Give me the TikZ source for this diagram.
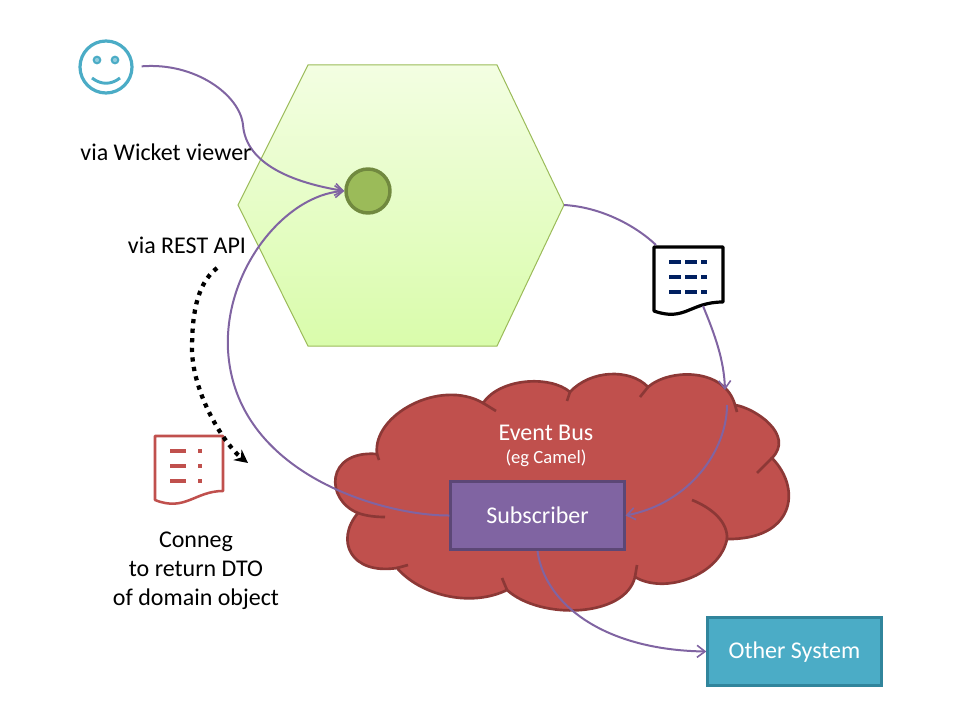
\documentclass[tikz,border=0pt]{standalone}
\usepackage{fontspec}
\setmainfont{Carlito}
\usetikzlibrary{arrows.meta}
\definecolor{flow}{HTML}{8064A2}
\definecolor{flowdark}{HTML}{5C4776}
\definecolor{busred}{HTML}{C0504D}
\definecolor{busdark}{HTML}{8C3836}
\definecolor{teal}{HTML}{4BACC6}
\definecolor{tealdark}{HTML}{31859C}
\definecolor{leaf}{HTML}{9BBB59}
\definecolor{leafdark}{HTML}{71893F}
\definecolor{navy}{HTML}{002060}
\definecolor{hextop}{HTML}{F3FEE2}
\definecolor{hexbottom}{HTML}{D9FCAB}

\begin{document}
\begin{tikzpicture}[x=0.75pt,y=-0.75pt,
	every node/.style={font=\fontsize{18}{21.75}\selectfont,align=center,inner sep=0pt},
	flowline/.style={draw=flow,line width=1.5pt,-{Straight Barb[length=6pt,width=9pt,line width=1.2pt]}},
	flowplain/.style={draw=flow,line width=1.5pt},
	cloudline/.style={draw=busdark,line width=2pt},
	box/.style={draw,line width=2.25pt,minimum width=130pt,minimum height=51pt,text=white},
	docbar/.style={line width=3pt,dash pattern=on 9pt off 3pt on 9pt off 3pt on 4.5pt off 9pt}] 

	\useasboundingbox (0,0) rectangle (960,720);

	% hexagon
	\draw[draw=leaf,line width=0.75pt,top color=hextop,bottom color=hexbottom] (308,65) -- (497,65) -- (564,205) -- (497,346) -- (308,346) -- (238,205) -- cycle;
	\coordinate (hexeast) at (564,205);

	% smiley
	\node[circle,draw=teal,line width=2.4pt,minimum size=39pt] (smiley) at (106,67) {};
	\node[circle,draw=teal,fill=teal!60,line width=1.5pt,minimum size=5pt] (eyeleft) at (97,60) {};
	\node[circle,draw=teal,fill=teal!60,line width=1.5pt,minimum size=5pt] (eyeright) at (115,60) {};
	\draw[teal,line width=2.2pt] (92,78) .. controls (101,85) and (111,85) .. (120,78);

	% object on the hexagon
	\node[circle,draw=leafdark,fill=leaf,line width=2.6pt,minimum width=33pt,minimum height=31pt] (dot) at (368,191) {};

	% event bus
	\draw[fill=busred,cloudline] (377,454)
		.. controls (372,415) and (440,378) .. (483,403)
		.. controls (500,378) and (550,375) .. (570,392)
		.. controls (590,370) and (630,368) .. (648,387)
		.. controls (670,368) and (725,368) .. (735,405)
		.. controls (755,408) and (795,435) .. (772,458)
		.. controls (803,490) and (793,540) .. (727,539)
		.. controls (720,575) and (665,595) .. (635,577)
		.. controls (625,618) and (540,620) .. (507,590)
		.. controls (470,608) and (420,595) .. (397,568)
		.. controls (350,575) and (335,540) .. (358,513)
		.. controls (325,500) and (325,450) .. (377,454) -- cycle;
	\draw[cloudline] (377,454) -- (379,460);
	\draw[cloudline] (483,403) -- (496,411);
	\draw[cloudline] (570,392) -- (567,401);
	\draw[cloudline] (648,387) -- (640,397);
	\draw[cloudline] (735,405) -- (737,412);
	\draw[cloudline] (772,458) -- (757,473);
	\draw[cloudline] (727,539) .. controls (728,522) and (712,508) .. (692,500);
	\draw[cloudline] (635,577) -- (637,565);
	\draw[cloudline] (507,590) -- (502,578);
	\draw[cloudline] (397,568) -- (408,565);
	\draw[cloudline] (358,513) .. controls (366,516) and (376,517) .. (385,517);
	\node[text=white] (bus) at (546,433) {Event Bus};
	\node[text=white,font=\fontsize{14}{17}\selectfont] (camel) at (546,458) {(eg Camel)};

	% documents
	\draw[line width=2.4pt,line join=round] (654,247) -- (723,247) -- (723,302) .. controls (690,302) and (685,322) .. (654,311) -- cycle;
	\coordinate (doctop) at (656,245);
	\coordinate (docbottom) at (703,306);
	\draw[navy,docbar] (669,262) -- (707,262);
	\draw[navy,docbar] (669,277) -- (707,277);
	\draw[navy,docbar] (669,292) -- (707,292);

	\draw[busred,line width=1.9pt,line join=round] (155,436) -- (223,436) -- (223,491) .. controls (195,491) and (185,512) .. (155,500) -- cycle;
	\draw[busred,line width=3pt,dash pattern=on 12pt off 9pt on 3pt off 9pt] (170,451) -- (202,451);
	\draw[busred,line width=3pt,dash pattern=on 12pt off 9pt on 3pt off 9pt] (170,466) -- (202,466);
	\draw[busred,line width=3pt,dash pattern=on 12pt off 9pt on 3pt off 9pt] (170,481) -- (202,481);

	% connectors
	\coordinate (bendwicket) at (243,125);
	\coordinate (bendrest) at (228,350);
	\coordinate (busentry) at (725,390);
	\coordinate (busstart) at (727,405);
	\coordinate (restfrom) at (217,268);
	\coordinate (restto) at (248,463);
	\coordinate (resthold) at (192,350);

	\node[draw=flowdark,fill=flow,box] (subscriber) at (537.5,515.5) {Subscriber};
	\node[draw=tealdark,fill=teal,box,text height=14pt] (other) at (794.5,651.5) {Other System};

	\draw[flowline,shorten <=6pt] (smiley.east) .. controls (195,62) and (240,95) .. (bendwicket) .. controls (246,165) and (295,183) .. (dot.west);
	\draw[flowline] (subscriber.west) .. controls (385,516) and (235,475) .. (bendrest) .. controls (224,270) and (285,195) .. (dot.west);
	\draw[flowplain] (hexeast) .. controls (600,207) and (635,225) .. (doctop);
	\draw[flowline] (docbottom) .. controls (715,335) and (724,360) .. (busentry);
	\draw[flowline] (busstart) .. controls (727,450) and (690,503) .. (subscriber.east);
	\draw[flowline] (subscriber.south) .. controls (545,605) and (605,650) .. (other.west);

	\draw[black,line width=3.2pt,dash pattern=on 3.2pt off 4pt,-{Stealth[length=10pt,width=10pt]}] (restfrom) .. controls (195,285) and (192,320) .. (resthold) .. controls (193,395) and (225,445) .. (restto);

	% labels
	\node (wicket) at (166,152) {via Wicket viewer};
	\node (rest) at (187,245) {via REST API};
	\node (conneg) at (196,571) {Conneg\\to return DTO\\of domain object};
\end{tikzpicture}
\end{document}
